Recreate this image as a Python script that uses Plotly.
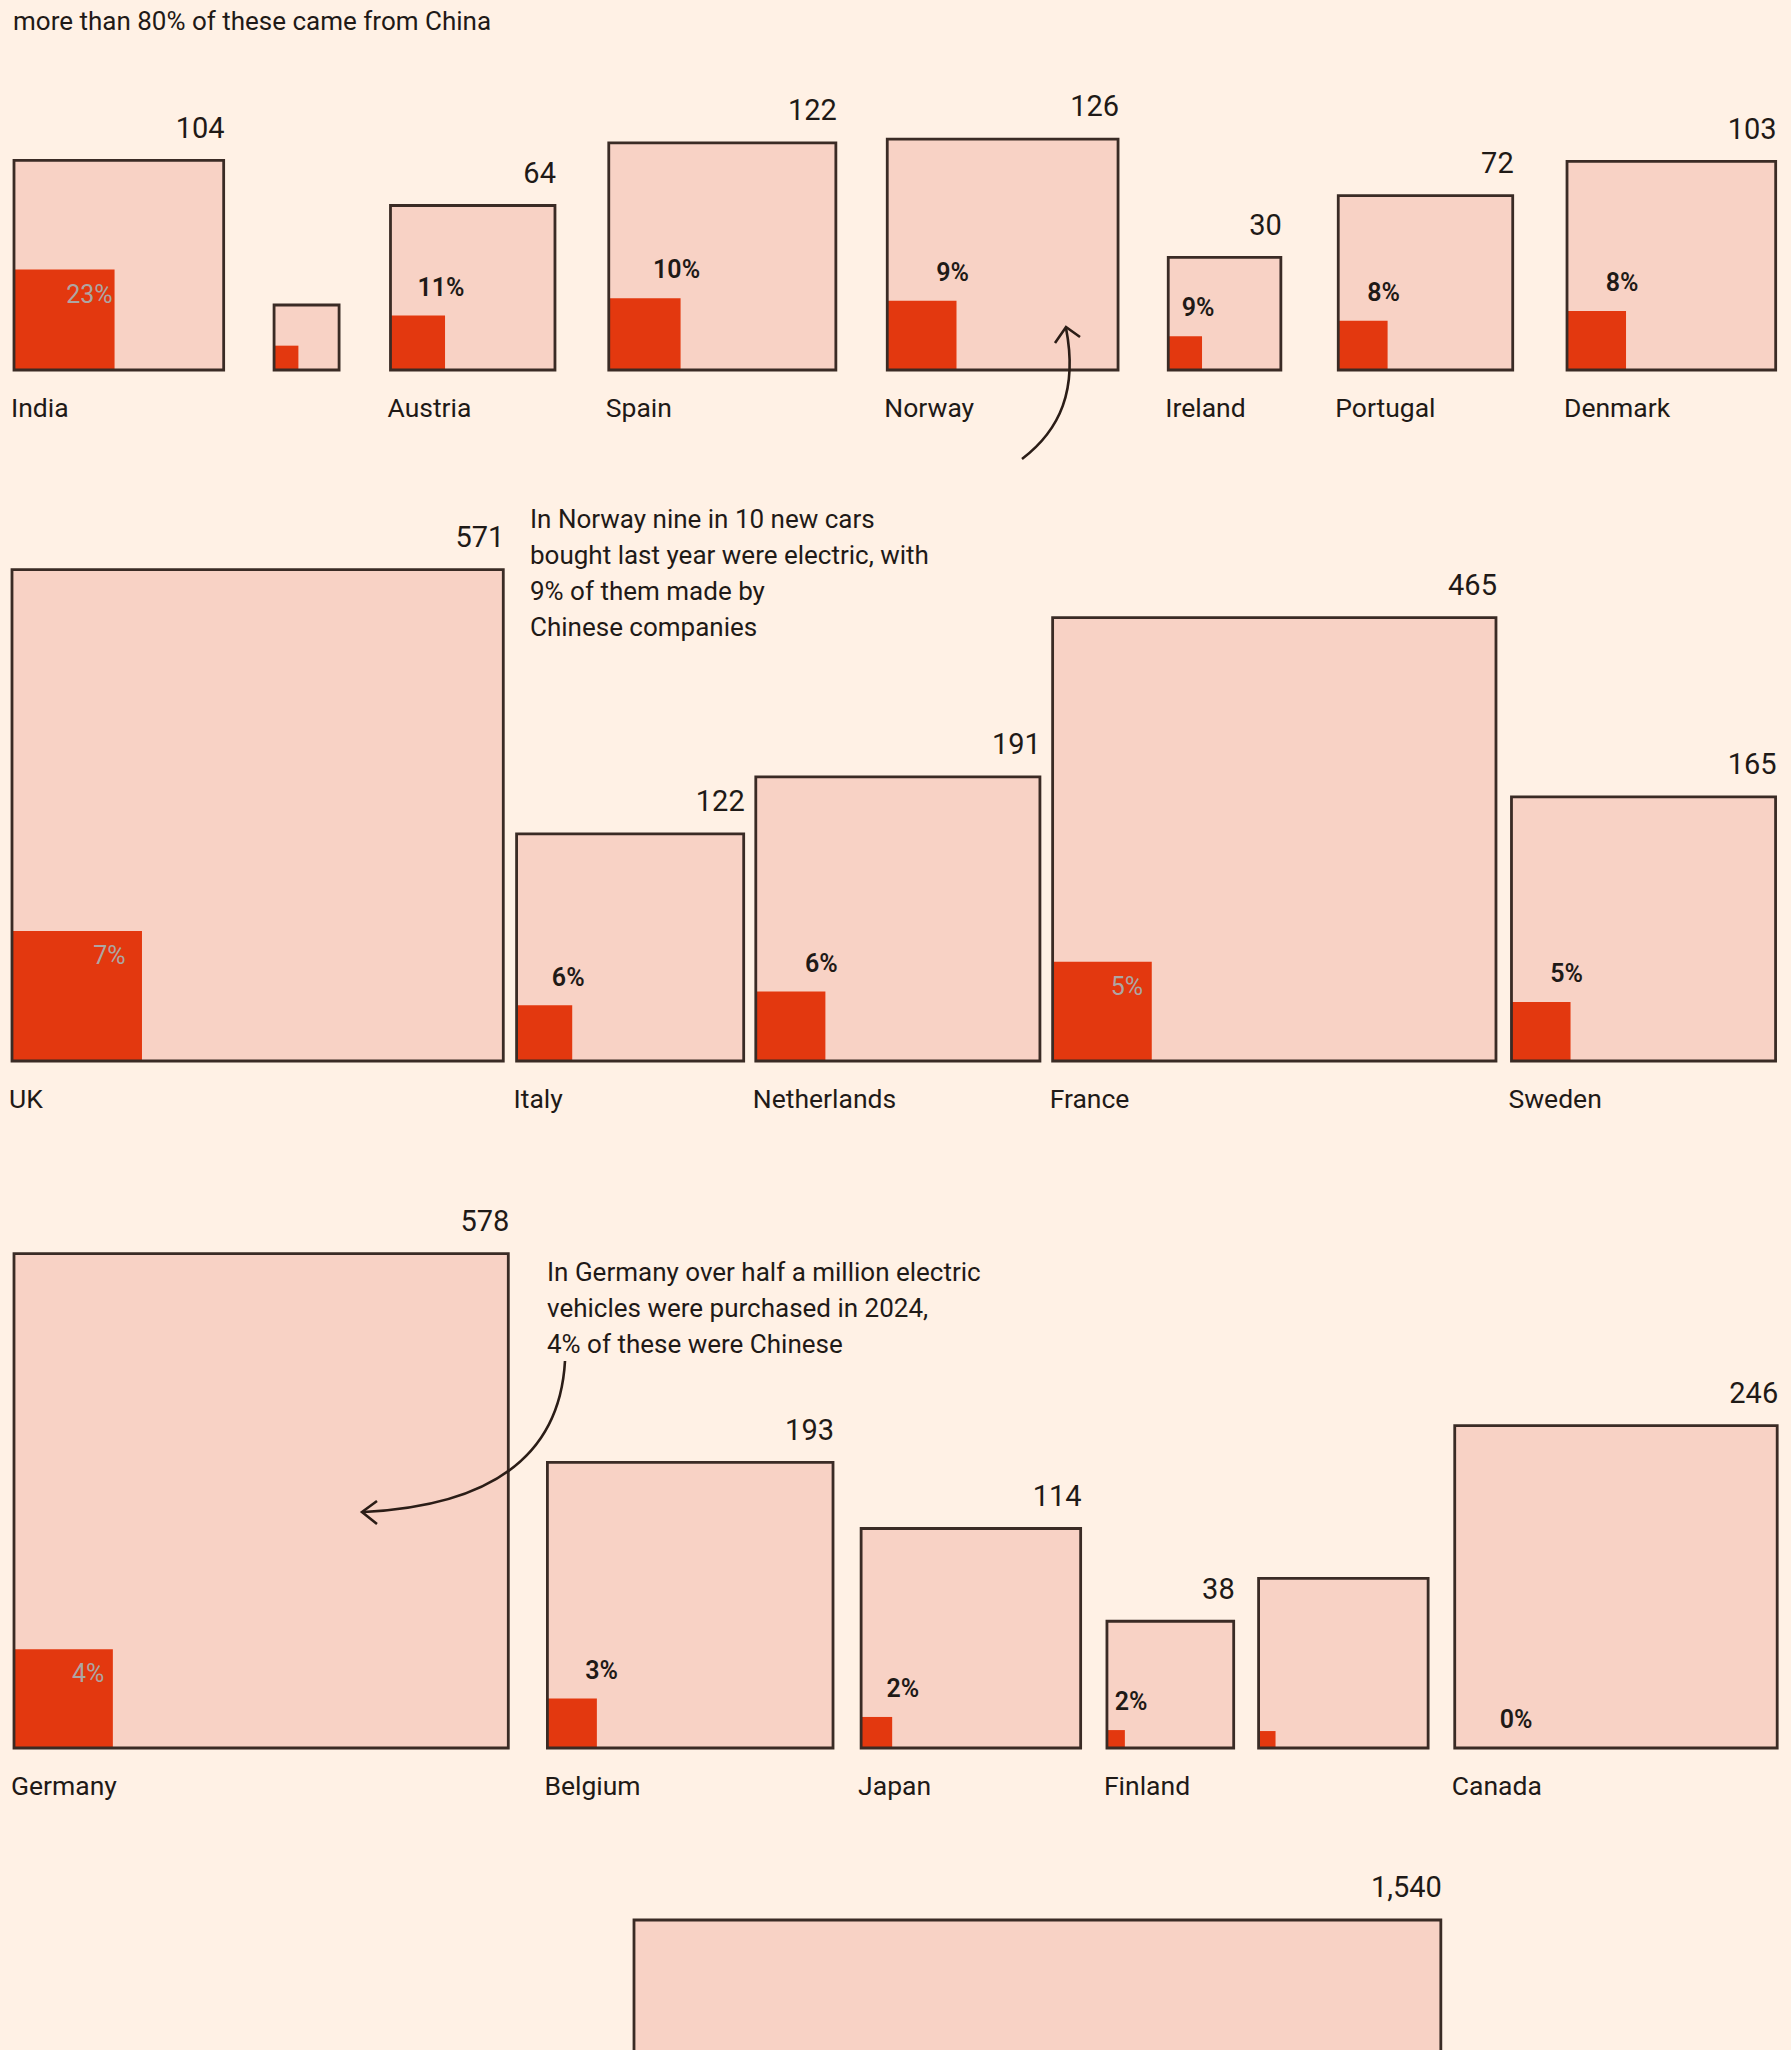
import math
import plotly.graph_objects as go

W, H = 1791, 2050

# ---------------- data (EV sales 2024, thousands; share made by Chinese companies, %) ----------------
row1_names = ["India", "", "Austria", "Spain", "Norway", "Ireland", "Portugal", "Denmark"]
row1_totals = [104, 10, 64, 122, 126, 30, 72, 103]
row1_shares = [23, 14, 11, 10, 9, 9, 8, 8]
row1_value_labels = ["104", "", "64", "122", "126", "30", "72", "103"]
row1_share_labels = ["23%", "", "11%", "10%", "9%", "9%", "8%", "8%"]

row2_names = ["UK", "Italy", "Netherlands", "France", "Sweden"]
row2_totals = [571, 122, 191, 465, 165]
row2_shares = [7, 6, 6, 5, 5]
row2_value_labels = ["571", "122", "191", "465", "165"]
row2_share_labels = ["7%", "6%", "6%", "5%", "5%"]

row3_names = ["Germany", "Belgium", "Japan", "Finland", "", "Canada"]
row3_totals = [578, 193, 114, 38, 68, 246]
row3_shares = [4, 3, 2, 2, 1, 0]
row3_value_labels = ["578", "193", "114", "38", "", "246"]
row3_share_labels = ["4%", "3%", "2%", "2%", "", "0%"]

row4_names = [""]
row4_totals = [1540]
row4_shares = [0]
row4_value_labels = ["1,540"]
row4_share_labels = [""]

subtitle = "more than 80% of these came from China"
note_norway = ["In Norway nine in 10 new cars", "bought last year were electric, with",
               "9% of them made by", "Chinese companies"]
note_germany = ["In Germany over half a million electric", "vehicles were purchased in 2024,",
                "4% of these were Chinese"]

# ---------------- layout / style constants ----------------
SCALE = 20.56  # pixels per sqrt(thousand cars)
BG = "#FFF1E5"
BOX = "#F8D2C5"
RED = "#E3380F"
EDGE = "#3a2b25"
TXT = "#1f1a17"
GREY_TXT = "#ADA6A3"
FONT = "Roboto"

rows = [
    dict(names=row1_names, totals=row1_totals, shares=row1_shares, vals=row1_value_labels,
         pcts=row1_share_labels, start=14, baseline=370,
         gaps=[50.4, 51.4, 53.8, 51.4, 50.2, 57.4, 54.3]),
    dict(names=row2_names, totals=row2_totals, shares=row2_shares, vals=row2_value_labels,
         pcts=row2_share_labels, start=12, baseline=1061, gaps=[13.3, 12.1, 12.7, 15.5]),
    dict(names=row3_names, totals=row3_totals, shares=row3_shares, vals=row3_value_labels,
         pcts=row3_share_labels, start=14, baseline=1748, gaps=[39.1, 28.1, 26.3, 24.9, 26.6]),
    dict(names=row4_names, totals=row4_totals, shares=row4_shares, vals=row4_value_labels,
         pcts=row4_share_labels, start=634, baseline=1920 + SCALE * math.sqrt(1540), gaps=[]),
]

box_x, box_w, box_base = [], [], []
red_x, red_w, red_base = [], [], []
name_x, name_y, name_t = [], [], []
val_x, val_y, val_t = [], [], []
pin_x, pin_y, pin_t = [], [], []
pout_x, pout_y, pout_t = [], [], []

for r in rows:
    left = r["start"]
    b = r["baseline"]
    for i, tot in enumerate(r["totals"]):
        side = SCALE * math.sqrt(tot)
        rs = side * math.sqrt(r["shares"][i] / 100.0)
        box_x.append(left + side / 2)
        box_w.append(side)
        box_base.append(b - side)
        if rs > 0:
            red_x.append(left + rs / 2)
            red_w.append(rs)
            red_base.append(b - rs)
        if r["names"][i]:
            name_x.append(left - 3)
            name_y.append(b + 40)
            name_t.append(r["names"][i])
        if r["vals"][i]:
            val_x.append(left + side + 1)
            val_y.append(b - side - 30)
            val_t.append(r["vals"][i])
        if r["pcts"][i]:
            if rs > 85:
                pin_x.append(left + rs - 0.25 * rs)
                pin_y.append(b - rs + 27)
                pin_t.append(r["pcts"][i])
            else:
                pout_x.append(max(left + rs - 4, left + 0.19 * side))
                pout_y.append(b - rs - 26)
                pout_t.append(r["pcts"][i])
        if i < len(r["gaps"]):
            left = left + side + r["gaps"][i]

fig = go.Figure()
fig.add_trace(go.Bar(x=box_x, y=box_w, base=box_base, width=box_w,
                     marker=dict(color=BOX, line=dict(width=0)), hoverinfo="skip"))
fig.add_trace(go.Bar(x=red_x, y=red_w, base=red_base, width=red_w,
                     marker=dict(color=RED, line=dict(width=0)), hoverinfo="skip"))
fig.add_trace(go.Bar(x=box_x, y=box_w, base=box_base, width=box_w,
                     marker=dict(color="rgba(0,0,0,0)", line=dict(width=2.8, color=EDGE)),
                     hoverinfo="skip"))

fig.add_trace(go.Scatter(x=name_x, y=name_y, text=name_t, mode="text", textposition="middle right",
                         textfont=dict(family=FONT, size=26.5, color=TXT), hoverinfo="skip"))
fig.add_trace(go.Scatter(x=val_x, y=val_y, text=val_t, mode="text", textposition="middle left",
                         textfont=dict(family=FONT, size=29, color=TXT), hoverinfo="skip"))
fig.add_trace(go.Scatter(x=pin_x, y=pin_y, text=pin_t, mode="text", textposition="middle center",
                         textfont=dict(family=FONT, size=25, color=GREY_TXT), hoverinfo="skip"))
fig.add_trace(go.Scatter(x=pout_x, y=pout_y, text=pout_t, mode="text", textposition="middle center",
                         textfont=dict(family=FONT, size=25, color=TXT, weight=600), hoverinfo="skip"))

annotations = [dict(x=11, y=21, xref="x", yref="y", text=subtitle, showarrow=False,
                    xanchor="left", yanchor="middle", font=dict(family=FONT, size=26, color=TXT))]
for i, line in enumerate(note_norway):
    annotations.append(dict(x=528, y=519 + i * 36, xref="x", yref="y", text=line, showarrow=False,
                            xanchor="left", yanchor="middle", font=dict(family=FONT, size=26, color=TXT)))
for i, line in enumerate(note_germany):
    annotations.append(dict(x=545, y=1272 + i * 36, xref="x", yref="y", text=line, showarrow=False,
                            xanchor="left", yanchor="middle", font=dict(family=FONT, size=26, color=TXT)))

arrow_style = dict(color="#2b1d17", width=2.6)
shapes = [
    dict(type="path", xref="x", yref="y", layer="above", line=arrow_style,
         path="M 1022 459 C 1060 430, 1078 390, 1066 328"),
    dict(type="path", xref="x", yref="y", layer="above", line=arrow_style,
         path="M 1055 343 L 1066 327 L 1080 337"),
    dict(type="path", xref="x", yref="y", layer="above", line=arrow_style,
         path="M 565 1361 C 560 1450, 500 1505, 364 1512"),
    dict(type="path", xref="x", yref="y", layer="above", line=arrow_style,
         path="M 377 1501 L 362 1512 L 377 1524"),
]

fig.update_layout(
    width=W, height=H, margin=dict(l=0, r=0, t=0, b=0),
    paper_bgcolor=BG, plot_bgcolor=BG, barmode="overlay", showlegend=False,
    xaxis=dict(range=[0, W], visible=False, fixedrange=True),
    yaxis=dict(range=[H, 0], visible=False, fixedrange=True),
    annotations=annotations, shapes=shapes,
)

fig.write_html("out.html")
